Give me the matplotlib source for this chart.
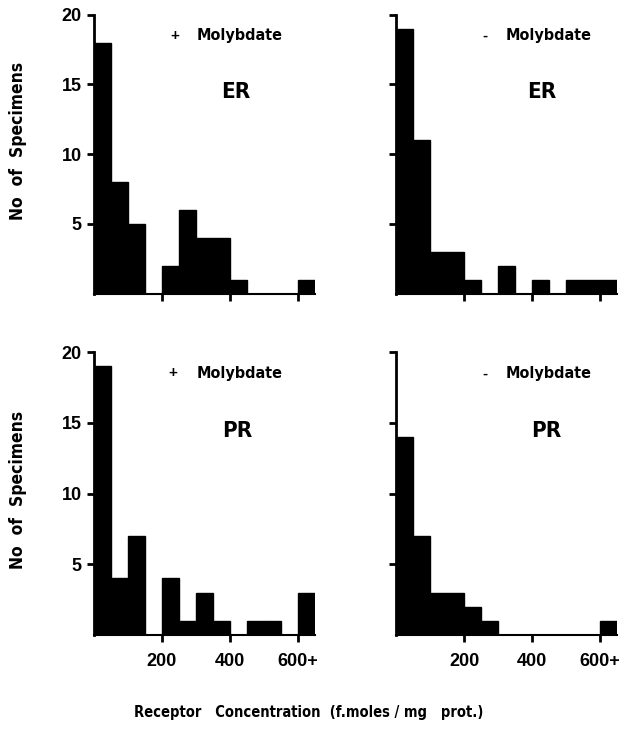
import numpy as np
from matplotlib import pyplot as plt

# bins of 50 f.moles/mg prot., last bin is 600+
bin_left = np.arange(0, 650, 50)
er_plus = [18, 8, 5, 0, 2, 6, 4, 4, 1, 0, 0, 0, 1]
er_minus = [19, 11, 3, 3, 1, 0, 2, 0, 1, 0, 1, 1, 1]
pr_plus = [19, 4, 7, 0, 4, 1, 3, 1, 0, 1, 1, 0, 3]
pr_minus = [14, 7, 3, 3, 2, 1, 0, 0, 0, 0, 0, 0, 1]
x_ticks = [200, 400, 600]
x_labels = ["200", "400", "600+"]
y_ticks = [5, 10, 15, 20]

plt.rcParams["font.family"] = ["Liberation Sans", "DejaVu Sans"]
plt.rcParams["font.weight"] = "bold"
narrow = dict(family="DejaVu Sans", stretch="condensed", fontweight="bold")

fig = plt.figure(figsize=(6.29, 7.29), dpi=100)

# rect, counts, sign, receptor, show y labels, show x labels, text x positions
panels = [
    ([0.149, 0.597, 0.351, 0.383], er_plus, "+", "ER", True, False, (0.366, 0.66, 0.645)),
    ([0.630, 0.597, 0.351, 0.383], er_minus, "-", "ER", False, False, (0.40, 0.69, 0.66)),
    ([0.149, 0.129, 0.351, 0.388], pr_plus, "+", "PR", True, True, (0.357, 0.66, 0.65)),
    ([0.630, 0.129, 0.351, 0.388], pr_minus, "-", "PR", False, True, (0.40, 0.69, 0.68)),
]

for rect, counts, sign, name, ylab, xlab, tx in panels:
    ax = fig.add_axes(rect)
    ax.bar(bin_left, counts, width=50, align="edge", color="black", edgecolor="black", linewidth=1)
    ax.set_xlim(0, 650)
    ax.set_ylim(0, 20)
    for s in ["top", "right"]:
        ax.spines[s].set_visible(False)
    ax.spines["left"].set_linewidth(2)
    ax.spines["bottom"].set_linewidth(1.5)
    ax.set_xticks(x_ticks)
    ax.set_yticks(y_ticks)
    ax.tick_params(axis="both", direction="out", length=5, width=2, labelsize=13)
    if xlab:
        ax.set_xticklabels(x_labels, fontweight="bold")
        ax.tick_params(axis="x", pad=8)
    else:
        ax.set_xticklabels([])
    if ylab:
        ax.set_yticklabels([str(t) for t in y_ticks], fontweight="bold")
    else:
        ax.set_yticklabels([])
    ax.text(tx[0], 0.925, sign, transform=ax.transAxes, fontsize=11, fontweight="bold", ha="center", va="center")
    ax.text(tx[1], 0.925, "Molybdate", transform=ax.transAxes, fontsize=11.5, ha="center", va="center", **narrow)
    ax.text(tx[2], 0.722, name, transform=ax.transAxes, fontsize=16, ha="center", va="center", **narrow)

fig.text(0.029, 1 - 141 / 729, "No  of  Specimens", rotation=90, fontsize=12.5, ha="center", va="center", **narrow)
fig.text(0.029, 1 - 490 / 729, "No  of  Specimens", rotation=90, fontsize=12.5, ha="center", va="center", **narrow)
fig.text(0.49, 0.023, "Receptor   Concentration  (f.moles / mg   prot.)", fontsize=10.5, ha="center", va="center", **narrow)

plt.savefig("out.png", dpi=100)
